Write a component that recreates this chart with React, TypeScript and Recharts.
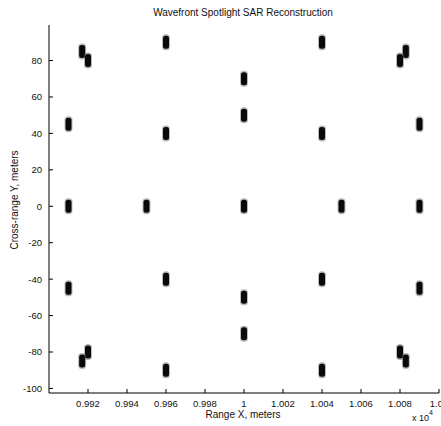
import { ScatterChart, Scatter, XAxis, YAxis } from "recharts";

// target returns, range X in meters, cross-range Y in meters
const rangeX = [
  9960, 10040, 9917, 9920, 10083, 10080, 10000, 10000,
  9910, 9960, 10040, 10090,
  9910, 9950, 10000, 10050, 10090,
  9910, 9960, 10040, 10090,
  10000, 10000, 9920, 9917, 10080, 10083, 9960, 10040,
];
const crossY = [
  90, 90, 85, 80, 85, 80, 70, 50,
  45, 40, 40, 45,
  0, 0, 0, 0, 0,
  -45, -40, -40, -45,
  -50, -70, -80, -85, -80, -85, -90, -90,
];

const xTicks = [9920, 9940, 9960, 9980, 10000, 10020, 10040, 10060, 10080, 10100];
const yTicks = [-100, -80, -60, -40, -20, 0, 20, 40, 60, 80];

const data = rangeX.map((x, i) => ({ x, y: crossY[i] }));

const font = "'Liberation Sans', Arial, sans-serif";
const tickStyle = { fontSize: 9.5, fill: "#111", fontFamily: font };

function fmtX(v: number) {
  return `${Number((v / 1e4).toFixed(3))}`;
}

function Blob(props: any) {
  const { cx, cy } = props;
  return (
    <g>
      <rect x={cx - 4} y={cy - 8} width={8} height={16} rx={3.5} fill="#666" opacity={0.45} />
      <rect x={cx - 3} y={cy - 6.5} width={6} height={13} rx={2.5} fill="#0a0a0a" />
    </g>
  );
}

export default function App() {
  return (
    <div style={{ position: "absolute", left: 0, top: 0, width: 441, height: 426, background: "#fff", fontFamily: font, color: "#111" }}>
      <ScatterChart width={441} height={426} margin={{ top: 25, right: 2, bottom: 0, left: 0 }}>
        <XAxis
          xAxisId="b" dataKey="x" type="number" domain={[9900, 10100]} ticks={xTicks} allowDataOverflow
          height={33} tickSize={-4} tickMargin={11} tickFormatter={fmtX} tick={tickStyle}
          stroke="#000" interval={0}
        />
        <XAxis
          xAxisId="t" orientation="top" dataKey="x" type="number" domain={[9900, 10100]} ticks={xTicks}
          allowDataOverflow height={0} tickSize={-4} tick={false} stroke="#000" interval={0}
        />
        <YAxis
          yAxisId="l" dataKey="y" type="number" domain={[-102.5, 99.5]} ticks={yTicks} allowDataOverflow
          width={49} tickSize={-4} tickMargin={11} tick={tickStyle} stroke="#000" interval={0}
        />
        <YAxis
          yAxisId="r" orientation="right" dataKey="y" type="number" domain={[-102.5, 99.5]} ticks={yTicks}
          allowDataOverflow width={0} tickSize={-4} tick={false} stroke="#000" interval={0}
        />
        <Scatter data={data} xAxisId="b" yAxisId="l" shape={Blob} isAnimationActive={false} />
      </ScatterChart>
      <div style={{ position: "absolute", left: 0, width: 486, top: 7, textAlign: "center", fontSize: 10 }}>
        Wavefront Spotlight SAR Reconstruction
      </div>
      <div style={{ position: "absolute", left: 0, width: 486, top: 409, textAlign: "center", fontSize: 10 }}>
        Range X, meters
      </div>
      <div style={{ position: "absolute", left: 412, top: 413, fontSize: 9, whiteSpace: "nowrap" }}>
        x 10<sup style={{ fontSize: 7, verticalAlign: "top", position: "relative", top: -4 }}>4</sup>
      </div>
      <div
        style={{
          position: "absolute", left: 14, top: 200, fontSize: 10, whiteSpace: "nowrap",
          transform: "translate(-50%, -50%) rotate(-90deg)",
        }}
      >
        Cross-range Y, meters
      </div>
    </div>
  );
}
